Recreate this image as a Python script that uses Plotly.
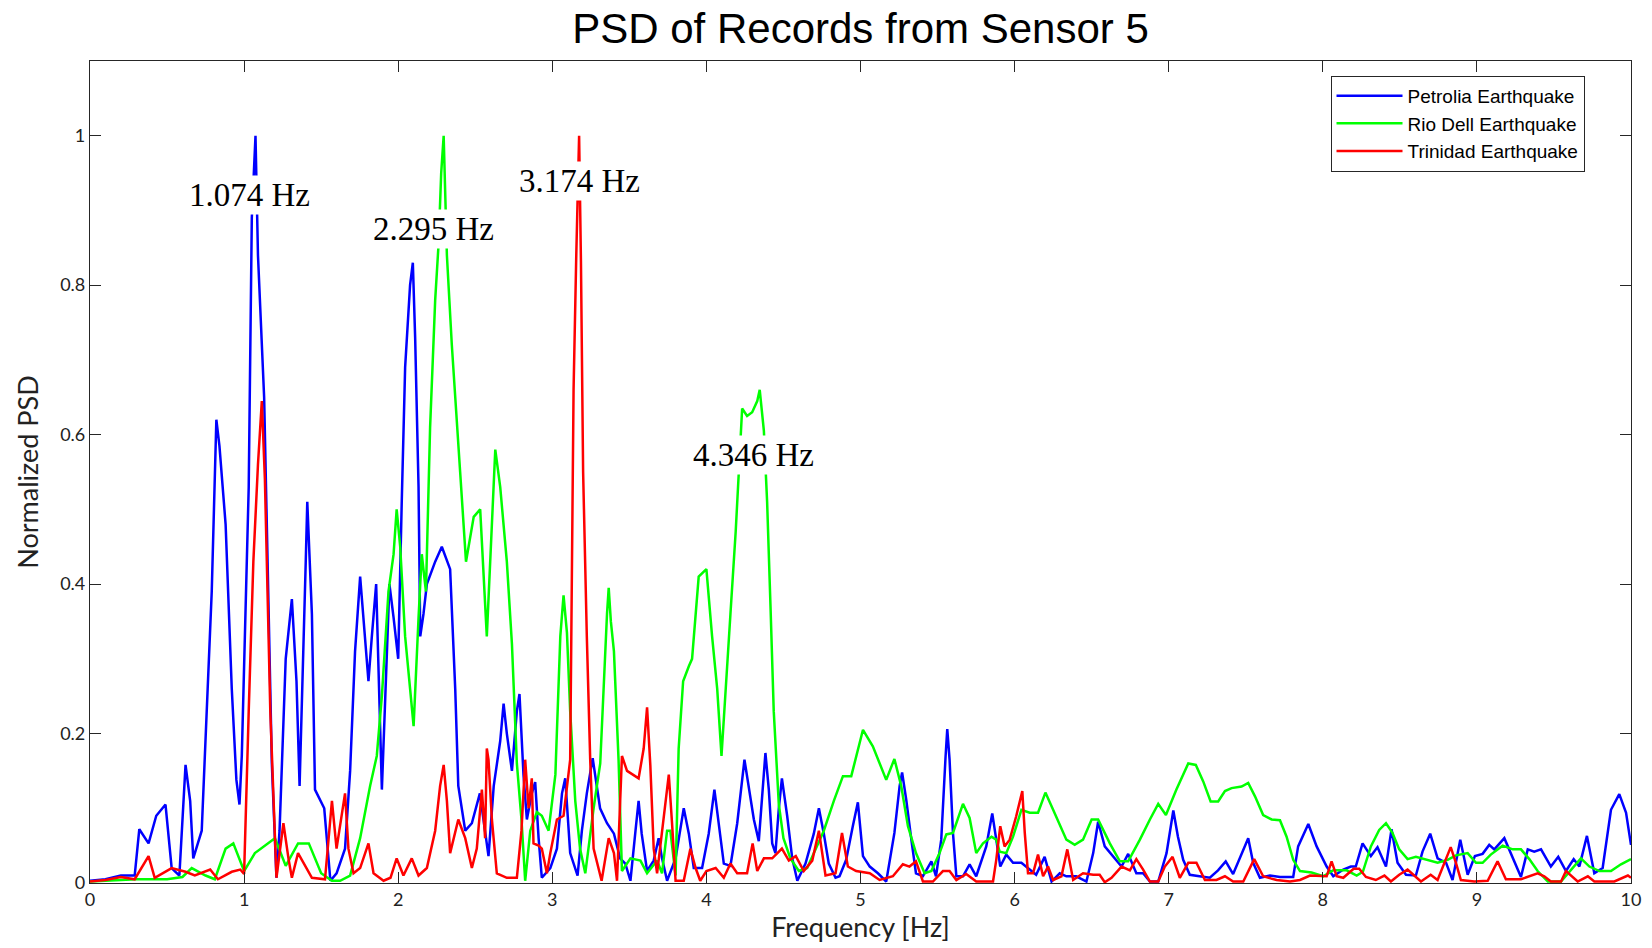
import plotly.graph_objects as go

# Petrolia earthquake record (blue)
petrolia_f = [0, 0.1, 0.2, 0.29, 0.32, 0.38, 0.43, 0.49, 0.53, 0.58, 0.62, 0.65, 0.67, 0.725,
              0.79, 0.82, 0.84, 0.88, 0.92, 0.95, 0.97, 0.985, 1.03, 1.05, 1.074, 1.09, 1.13,
              1.16, 1.18, 1.21, 1.23, 1.27, 1.31, 1.34, 1.36, 1.40, 1.41, 1.44, 1.46, 1.52,
              1.56, 1.60, 1.655, 1.688, 1.72, 1.753, 1.775, 1.807, 1.829, 1.857, 1.894, 1.943,
              1.97, 2.0, 2.023, 2.045, 2.077, 2.095, 2.11, 2.132, 2.143, 2.164, 2.186, 2.24,
              2.283, 2.337, 2.37, 2.39, 2.435, 2.478, 2.53, 2.564, 2.586, 2.62, 2.662, 2.684,
              2.705, 2.738, 2.77, 2.787, 2.813, 2.835, 2.867, 2.889, 2.911, 2.932, 2.987, 3.03,
              3.063, 3.084, 3.116, 3.164, 3.192, 3.224, 3.262, 3.31, 3.355, 3.4, 3.44, 3.474,
              3.507, 3.54, 3.56, 3.58, 3.615, 3.658, 3.69, 3.712, 3.745, 3.8, 3.853, 3.886,
              3.918, 3.972, 4.015, 4.052, 4.08, 4.113, 4.156, 4.2, 4.247, 4.275, 4.308, 4.34,
              4.362, 4.383, 4.405, 4.427, 4.448, 4.47, 4.49, 4.524, 4.557, 4.59, 4.643, 4.697,
              4.73, 4.762, 4.794, 4.838, 4.864, 4.907, 4.95, 4.983, 5.016, 5.06, 5.113, 5.167,
              5.22, 5.254, 5.27, 5.297, 5.33, 5.36, 5.405, 5.46, 5.49, 5.524, 5.552, 5.563,
              5.578, 5.6, 5.622, 5.665, 5.708, 5.751, 5.816, 5.855, 5.881, 5.907, 5.946, 5.99,
              6.044, 6.098, 6.14, 6.195, 6.24, 6.293, 6.336, 6.4, 6.466, 6.51, 6.542, 6.585,
              6.64, 6.694, 6.737, 6.79, 6.834, 6.878, 6.932, 6.986, 7.03, 7.06, 7.094, 7.137,
              7.2, 7.267, 7.32, 7.37, 7.418, 7.473, 7.516, 7.548, 7.592, 7.657, 7.722, 7.808,
              7.84, 7.906, 7.96, 8.025, 8.068, 8.133, 8.182, 8.214, 8.258, 8.312, 8.355, 8.41,
              8.446, 8.485, 8.54, 8.604, 8.647, 8.697, 8.745, 8.8, 8.842, 8.892, 8.94, 8.987,
              9.037, 9.08, 9.113, 9.178, 9.232, 9.286, 9.33, 9.372, 9.416, 9.48, 9.528, 9.578,
              9.628, 9.665, 9.714, 9.762, 9.816, 9.87, 9.924, 9.968, 10.0]
petrolia_psd = [0.003, 0.005, 0.01, 0.01, 0.072, 0.053, 0.09, 0.105, 0.02, 0.01, 0.158, 0.11,
                0.033, 0.07, 0.39, 0.62, 0.585, 0.48, 0.26, 0.138, 0.105, 0.17, 0.53, 0.89, 1.0,
                0.84, 0.65, 0.34, 0.16, 0.007, 0.07, 0.30, 0.38, 0.27, 0.13, 0.43, 0.51, 0.36,
                0.125, 0.10, 0.003, 0.013, 0.046, 0.15, 0.31, 0.41, 0.355, 0.27, 0.33, 0.40,
                0.125, 0.40, 0.355, 0.30, 0.51, 0.69, 0.80, 0.83, 0.73, 0.53, 0.33, 0.36, 0.40,
                0.43, 0.45, 0.42, 0.26, 0.13, 0.07, 0.08, 0.12, 0.07, 0.036, 0.13, 0.19, 0.24,
                0.20, 0.15, 0.23, 0.253, 0.145, 0.085, 0.12, 0.135, 0.06, 0.007, 0.02, 0.046,
                0.12, 0.14, 0.04, 0.01, 0.07, 0.12, 0.167, 0.10, 0.08, 0.066, 0.033, 0.026,
                0.003, 0.07, 0.11, 0.066, 0.016, 0.03, 0.06, 0.033, 0.003, 0.033, 0.10, 0.066,
                0.02, 0.02, 0.066, 0.125, 0.08, 0.026, 0.023, 0.08, 0.165, 0.13, 0.085, 0.056,
                0.12, 0.174, 0.125, 0.053, 0.04, 0.10, 0.14, 0.09, 0.033, 0.003, 0.026, 0.066,
                0.10, 0.066, 0.026, 0.007, 0.009, 0.031, 0.076, 0.108, 0.036, 0.022, 0.013,
                0.002, 0.067, 0.13, 0.148, 0.111, 0.058, 0.013, 0.009, 0.029, 0.009, 0.058,
                0.169, 0.206, 0.165, 0.067, 0.009, 0.009, 0.025, 0.009, 0.049, 0.093, 0.058,
                0.022, 0.038, 0.027, 0.027, 0.018, 0.011, 0.035, 0.002, 0.013, 0.009, 0.009,
                0.002, 0.04, 0.082, 0.049, 0.036, 0.022, 0.039, 0.013, 0.013, 0.002, 0.002,
                0.04, 0.097, 0.062, 0.031, 0.011, 0.009, 0.007, 0.017, 0.029, 0.012, 0.038,
                0.06, 0.027, 0.007, 0.01, 0.008, 0.008, 0.049, 0.079, 0.049, 0.022, 0.009,
                0.018, 0.022, 0.022, 0.053, 0.036, 0.048, 0.022, 0.072, 0.027, 0.011, 0.01,
                0.042, 0.066, 0.033, 0.027, 0.004, 0.058, 0.011, 0.036, 0.039, 0.051, 0.045,
                0.06, 0.033, 0.008, 0.045, 0.042, 0.045, 0.022, 0.035, 0.016, 0.032, 0.022,
                0.063, 0.013, 0.02, 0.098, 0.119, 0.094, 0.051]

# Rio Dell earthquake record (green)
riodell_f = [0, 0.3, 0.5, 0.6, 0.66, 0.75, 0.81, 0.88, 0.93, 1.0, 1.07, 1.2, 1.27, 1.35, 1.42,
             1.5, 1.57, 1.623, 1.688, 1.753, 1.818, 1.861, 1.894, 1.937, 1.97, 1.99, 2.013,
             2.045, 2.077, 2.1, 2.132, 2.153, 2.18, 2.207, 2.24, 2.262, 2.279, 2.295, 2.316,
             2.348, 2.402, 2.44, 2.49, 2.532, 2.575, 2.597, 2.63, 2.662, 2.705, 2.738, 2.77,
             2.8, 2.824, 2.857, 2.9, 2.932, 2.976, 3.02, 3.052, 3.073, 3.095, 3.116, 3.149,
             3.18, 3.214, 3.268, 3.311, 3.355, 3.366, 3.38, 3.4, 3.43, 3.452, 3.507, 3.572,
             3.615, 3.68, 3.712, 3.745, 3.766, 3.8, 3.82, 3.849, 3.886, 3.907, 3.95, 4.0,
             4.037, 4.07, 4.098, 4.124, 4.156, 4.19, 4.21, 4.232, 4.264, 4.297, 4.33, 4.346,
             4.373, 4.394, 4.416, 4.437, 4.47, 4.5, 4.545, 4.6, 4.654, 4.697, 4.762, 4.827,
             4.886, 4.94, 5.016, 5.08, 5.167, 5.22, 5.264, 5.308, 5.36, 5.416, 5.46, 5.513,
             5.557, 5.6, 5.665, 5.708, 5.751, 5.795, 5.85, 5.881, 5.903, 5.946, 5.99, 6.044,
             6.098, 6.152, 6.2, 6.25, 6.336, 6.39, 6.444, 6.5, 6.542, 6.618, 6.683, 6.737,
             6.813, 6.878, 6.932, 6.982, 7.05, 7.127, 7.176, 7.224, 7.272, 7.321, 7.365,
             7.408, 7.473, 7.516, 7.56, 7.613, 7.668, 7.722, 7.765, 7.808, 7.852, 7.927,
             8.003, 8.068, 8.155, 8.22, 8.26, 8.312, 8.366, 8.41, 8.452, 8.496, 8.55, 8.604,
             8.68, 8.745, 8.81, 8.864, 8.94, 8.994, 9.037, 9.09, 9.167, 9.232, 9.286, 9.34,
             9.394, 9.46, 9.546, 9.61, 9.675, 9.73, 9.795, 9.87, 9.935, 10.0]
riodell_psd = [0.002, 0.005, 0.005, 0.008, 0.02, 0.01, 0.005, 0.046, 0.053, 0.016, 0.04, 0.06,
               0.023, 0.053, 0.053, 0.013, 0.003, 0.003, 0.01, 0.06, 0.13, 0.17, 0.25, 0.39,
               0.44, 0.50, 0.45, 0.33, 0.26, 0.21, 0.355, 0.44, 0.39, 0.61, 0.78, 0.855, 0.95,
               1.0, 0.84, 0.72, 0.55, 0.43, 0.49, 0.50, 0.33, 0.43, 0.58, 0.53, 0.43, 0.32,
               0.16, 0.085, 0.003, 0.07, 0.095, 0.09, 0.07, 0.145, 0.33, 0.385, 0.335, 0.23,
               0.11, 0.046, 0.013, 0.10, 0.16, 0.36, 0.395, 0.35, 0.31, 0.165, 0.016, 0.033,
               0.03, 0.013, 0.03, 0.013, 0.07, 0.07, 0.01, 0.18, 0.27, 0.29, 0.30, 0.41, 0.42,
               0.33, 0.26, 0.17, 0.26, 0.36, 0.47, 0.55, 0.635, 0.625, 0.63, 0.645, 0.66,
               0.605, 0.51, 0.37, 0.23, 0.105, 0.06, 0.033, 0.016, 0.02, 0.04, 0.07, 0.11,
               0.143, 0.143, 0.205, 0.183, 0.138, 0.166, 0.13, 0.076, 0.04, 0.013, 0.016, 0.04,
               0.065, 0.067, 0.106, 0.087, 0.04, 0.053, 0.062, 0.058, 0.042, 0.04, 0.062,
               0.098, 0.094, 0.094, 0.121, 0.098, 0.058, 0.051, 0.058, 0.085, 0.085, 0.053,
               0.029, 0.029, 0.058, 0.085, 0.106, 0.091, 0.125, 0.16, 0.158, 0.136, 0.109,
               0.109, 0.123, 0.127, 0.129, 0.134, 0.116, 0.091, 0.085, 0.084, 0.062, 0.031,
               0.016, 0.014, 0.009, 0.017, 0.017, 0.01, 0.015, 0.049, 0.071, 0.08, 0.067,
               0.045, 0.032, 0.035, 0.031, 0.027, 0.031, 0.037, 0.04, 0.027, 0.027, 0.038,
               0.05, 0.045, 0.045, 0.032, 0.016, 0.002, 0.002, 0.018, 0.033, 0.022, 0.016,
               0.016, 0.025, 0.032]

# Trinidad earthquake record (red)
trinidad_f = [0, 0.1, 0.2, 0.29, 0.38, 0.42, 0.53, 0.62, 0.68, 0.78, 0.83, 0.92, 0.975, 1.0,
              1.03, 1.06, 1.09, 1.115, 1.135, 1.17, 1.21, 1.255, 1.29, 1.31, 1.35, 1.44, 1.525,
              1.57, 1.6, 1.655, 1.677, 1.71, 1.753, 1.807, 1.84, 1.905, 1.95, 1.99, 2.034,
              2.088, 2.132, 2.186, 2.24, 2.272, 2.295, 2.316, 2.337, 2.39, 2.435, 2.478, 2.51,
              2.543, 2.564, 2.575, 2.586, 2.608, 2.64, 2.705, 2.77, 2.8, 2.824, 2.846, 2.867,
              2.878, 2.911, 2.932, 2.965, 2.987, 3.03, 3.073, 3.116, 3.138, 3.155, 3.174, 3.186,
              3.2, 3.224, 3.246, 3.268, 3.32, 3.366, 3.4, 3.42, 3.452, 3.485, 3.56, 3.593,
              3.615, 3.636, 3.658, 3.68, 3.712, 3.756, 3.777, 3.8, 3.853, 3.896, 3.93, 3.96,
              4.0, 4.06, 4.113, 4.156, 4.2, 4.264, 4.3, 4.33, 4.373, 4.427, 4.49, 4.535, 4.58,
              4.632, 4.687, 4.73, 4.773, 4.838, 4.88, 4.918, 4.972, 5.06, 5.124, 5.21, 5.275,
              5.318, 5.36, 5.405, 5.47, 5.535, 5.578, 5.622, 5.686, 5.751, 5.86, 5.881, 5.907,
              5.935, 5.968, 6.01, 6.05, 6.066, 6.087, 6.12, 6.152, 6.185, 6.217, 6.25, 6.304,
              6.342, 6.38, 6.444, 6.51, 6.552, 6.585, 6.629, 6.694, 6.748, 6.79, 6.834, 6.878,
              6.932, 6.975, 7.025, 7.072, 7.127, 7.18, 7.235, 7.31, 7.365, 7.418, 7.484, 7.555,
              7.613, 7.7, 7.787, 7.852, 7.917, 8.025, 8.057, 8.09, 8.133, 8.2, 8.236, 8.28,
              8.344, 8.4, 8.442, 8.496, 8.55, 8.637, 8.7, 8.745, 8.8, 8.83, 8.864, 8.896,
              8.983, 9.07, 9.134, 9.188, 9.286, 9.394, 9.437, 9.48, 9.546, 9.578, 9.654, 9.72,
              9.762, 9.892, 9.98, 10.0]
trinidad_psd = [0.002, 0.004, 0.008, 0.005, 0.036, 0.007, 0.02, 0.015, 0.01, 0.018, 0.005,
                0.015, 0.018, 0.012, 0.23, 0.43, 0.56, 0.645, 0.54, 0.23, 0.007, 0.08, 0.03,
                0.007, 0.04, 0.007, 0.005, 0.11, 0.046, 0.12, 0.046, 0.013, 0.02, 0.053, 0.013,
                0.003, 0.007, 0.033, 0.01, 0.033, 0.01, 0.02, 0.07, 0.13, 0.158, 0.11, 0.04,
                0.085, 0.06, 0.02, 0.046, 0.125, 0.06, 0.18, 0.165, 0.085, 0.013, 0.007, 0.007,
                0.07, 0.165, 0.10, 0.14, 0.053, 0.05, 0.046, 0.013, 0.04, 0.085, 0.09, 0.165,
                0.66, 0.835, 1.0, 0.83, 0.55, 0.33, 0.165, 0.046, 0.003, 0.06, 0.04, 0.003,
                0.17, 0.15, 0.14, 0.18, 0.235, 0.158, 0.046, 0.013, 0.07, 0.145, 0.08, 0.003,
                0.003, 0.046, 0.02, 0.003, 0.016, 0.02, 0.007, 0.026, 0.013, 0.013, 0.053,
                0.016, 0.033, 0.033, 0.046, 0.03, 0.036, 0.016, 0.03, 0.07, 0.01, 0.013, 0.067,
                0.022, 0.016, 0.013, 0.004, 0.009, 0.025, 0.022, 0.029, 0.002, 0.002, 0.016,
                0.016, 0.004, 0.012, 0.002, 0.002, 0.031, 0.076, 0.049, 0.058, 0.089, 0.123,
                0.067, 0.013, 0.013, 0.038, 0.009, 0.022, 0.004, 0.009, 0.045, 0.004, 0.013,
                0.011, 0.011, 0.001, 0.007, 0.022, 0.017, 0.032, 0.018, 0.002, 0.002, 0.022,
                0.035, 0.007, 0.027, 0.027, 0.004, 0.004, 0.009, 0.002, 0.002, 0.032, 0.009,
                0.004, 0.002, 0.004, 0.01, 0.009, 0.029, 0.009, 0.007, 0.019, 0.019, 0.008,
                0.004, 0.01, 0.002, 0.011, 0.018, 0.002, 0.011, 0.004, 0.033, 0.048, 0.027,
                0.004, 0.002, 0.003, 0.029, 0.005, 0.005, 0.013, 0.009, 0.002, 0.002, 0.016,
                0.002, 0.009, 0.002, 0.002, 0.01, 0.007]

# Dominant frequency of each record, labelled on the plot
peak_labels = ["1.074 Hz", "2.295 Hz", "3.174 Hz", "4.346 Hz"]
peak_label_x = [1.034, 2.231, 3.175, 4.307]
peak_label_y = [0.921, 0.875, 0.94, 0.573]

y_ticks = [0, 0.2, 0.4, 0.6, 0.8, 1]
y_tick_text = ["0", "0.2", "0.4", "0.6", "0.8", "1"]

fig = go.Figure()
for name, f, p, color in [
    ("Petrolia Earthquake", petrolia_f, petrolia_psd, "#0000FF"),
    ("Rio Dell Earthquake", riodell_f, riodell_psd, "#00FF00"),
    ("Trinidad Earthquake", trinidad_f, trinidad_psd, "#FF0000"),
]:
    fig.add_trace(go.Scatter(x=f, y=p, mode="lines", name=name,
                             line=dict(color=color, width=2.5)))

for txt, x, y in zip(peak_labels, peak_label_x, peak_label_y):
    fig.add_annotation(x=x, y=y, xref="x", yref="y", text=txt, showarrow=False,
                       font=dict(family="Liberation Serif", size=33, color="black"),
                       bgcolor="white", borderpad=1)

axis_common = dict(showline=True, linecolor="#262626", linewidth=1.2, mirror="ticks",
                   ticks="inside", ticklen=11, tickcolor="#262626", tickwidth=1,
                   showgrid=False, zeroline=False,
                   tickfont=dict(family="Lato", size=18, color="#222"))

fig.update_layout(
    width=1652, height=948,
    margin=dict(l=90, r=21, t=61, b=65),
    paper_bgcolor="white", plot_bgcolor="white",
    title=dict(text="PSD of Records from Sensor 5", x=0.5, xref="paper",
               y=1 - 28 / 948, yref="container", xanchor="center", yanchor="middle",
               font=dict(family="Liberation Sans", size=42, color="black")),
    xaxis=dict(range=[0, 10], dtick=1, tick0=0,
               title=dict(text="Frequency [Hz]", standoff=7,
                          font=dict(family="Lato", size=27, color="#222")),
               **axis_common),
    yaxis=dict(range=[0, 1.1], tickvals=y_ticks, ticktext=y_tick_text,
               title=dict(text="Normalized PSD", standoff=13,
                          font=dict(family="Lato", size=27, color="#222")),
               **axis_common),
    legend=dict(x=0.805, y=0.982, xanchor="left", yanchor="top",
                bgcolor="white", bordercolor="#262626", borderwidth=1,
                font=dict(family="Liberation Sans", size=19, color="black"),
                itemwidth=66, tracegroupgap=0),
    showlegend=True,
)

fig.write_html("out.html")
